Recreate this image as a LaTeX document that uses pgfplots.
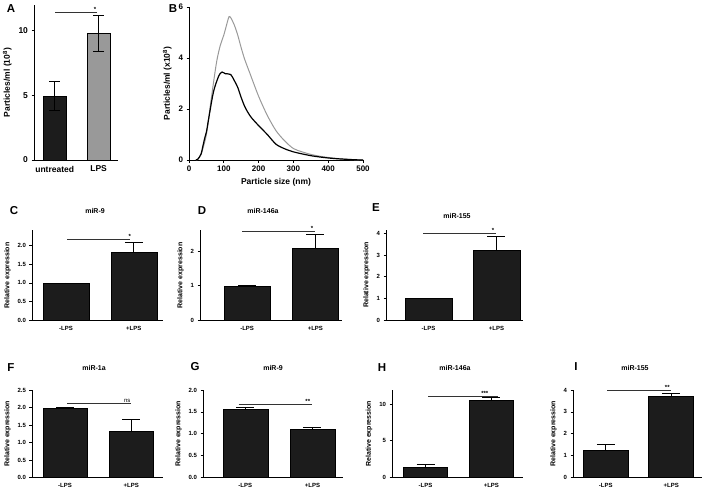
\documentclass[border=0pt]{standalone}
\usepackage{pgfplots}
\pgfplotsset{compat=1.18}
\usepackage{fontspec}
\setmainfont{Liberation Sans}
\definecolor{barblack}{HTML}{1C1C1C}
\definecolor{bargray}{HTML}{999999}
\definecolor{sigline}{HTML}{333333}
\tikzset{
  sig/.style={draw=sigline, line width=0.8pt},
  star/.style={font=\bfseries\fontsize{6}{6}\selectfont, anchor=south, inner sep=0.6pt},
}
\pgfplotsset{
  gp/.style={scale only axis, anchor=south west, axis x line*=bottom, axis y line*=left,
    axis line style={-, line width=0.8pt}, tick align=outside, major tick length=2.5pt,
    tick style={line width=0.8pt,black}, ymin=0, clip=false,
    /pgf/number format/assume math mode=true,
    ticklabel style={font=\bfseries\fontsize{6}{7}\selectfont},
    ylabel style={font=\bfseries\fontsize{7}{8}\selectfont}},
  bp/.style={gp, ybar, xtick={0,1}, xticklabels={-LPS,+LPS}, xtick style={draw=none},
    ylabel={Relative expression}},
  onebar/.style={fill=barblack, draw=black, line width=0.6pt, bar shift=0pt, bar width=#1,
    error bars/y dir=plus, error bars/y explicit,
    error bars/error bar style={line width=0.8pt, black},
    error bars/error mark options={rotate=90, mark size=9pt, line width=0.8pt, black}},
}
\begin{document}
\begin{tikzpicture}
\useasboundingbox (0pt,0pt) rectangle (708pt,-491pt);
% ---------------- A ----------------
\begin{axis}[gp, at={(34pt,-160pt)}, width=84pt, height=155pt, ybar,
  xmin=-0.47, xmax=1.44, ymax=12, ytick={0,5,10},
  xtick={0,1}, xticklabels={untreated,LPS}, xtick style={draw=none},
  ticklabel style={font=\bfseries\fontsize{8.5}{9}\selectfont},
  ylabel style={font=\bfseries\fontsize{8.5}{9}\selectfont},
  ylabel={Particles/ml (10\textsuperscript{8})}]
\addplot[onebar=23pt, error bars/y dir=both, error bars/error mark options={rotate=90, mark size=5.5pt, line width=0.8pt, black}]
  coordinates {(0,4.95) +- (0,1.1)};
\addplot[onebar=23pt, fill=bargray, error bars/y dir=both, error bars/error mark options={rotate=90, mark size=5.5pt, line width=0.8pt, black}]
  coordinates {(1,9.8) +- (0,1.4)};
\draw[sig] (axis cs:0.01,11.4) -- (axis cs:0.97,11.4);
\node[star] at (axis cs:0.92,11.4) {*};
\end{axis}
% ---------------- B ----------------
\begin{axis}[gp, at={(189pt,-160pt)}, width=174pt, height=153pt,
  xmin=0, xmax=500, ymax=6, xtick={0,100,...,500}, ytick={0,2,4,6},
  ticklabel style={font=\bfseries\fontsize{8}{9}\selectfont},
  ylabel style={font=\bfseries\fontsize{8.5}{9}\selectfont},
  xlabel style={font=\bfseries\fontsize{8.5}{9}\selectfont},
  xlabel={Particle size (nm)}, ylabel={Particles/ml (x10\textsuperscript{8})}]
\addplot[bargray, line width=1pt, smooth] coordinates {
 (20,0) (25,0.02) (30,0.1) (35,0.22) (40,0.45) (45,0.7) (50,1.0) (55,1.45) (60,2.0) (65,2.5) (70,3.0)
 (80,3.9) (90,4.5) (100,4.9) (110,5.4) (115,5.62) (120,5.58) (130,5.3) (140,4.9) (150,4.4)
 (160,3.95) (175,3.4) (200,2.5) (225,1.75) (250,1.15) (275,0.75) (300,0.45) (325,0.32)
 (350,0.22) (375,0.15) (400,0.1) (425,0.06) (450,0.03) (475,0.01) (500,0)};
\addplot[black, line width=1.2pt, smooth] coordinates {
 (20,0) (25,0.03) (30,0.12) (35,0.25) (40,0.55) (45,0.85) (50,1.1) (55,1.5) (60,1.9) (65,2.3) (70,2.65)
 (75,2.9) (80,3.1) (85,3.28) (90,3.4) (95,3.45) (100,3.42) (105,3.38) (110,3.38) (115,3.37) (120,3.35)
 (125,3.25) (130,3.12) (140,2.85) (150,2.45) (160,2.1) (170,1.85) (180,1.65) (200,1.35)
 (225,1.0) (250,0.62) (275,0.44) (300,0.32) (325,0.24) (350,0.17) (375,0.12) (400,0.08)
 (425,0.05) (450,0.03) (475,0.01) (500,0)};
\end{axis}
% ---------------- C ----------------
\begin{axis}[bp, at={(32pt,-320.7pt)}, width=131pt, height=90.7pt,
  xmin=-0.5, xmax=1.43, ymax=2.4, ytick={0,0.5,...,2.0},
  yticklabel style={/pgf/number format/.cd, fixed, fixed zerofill, precision=1}]
\addplot[onebar=46pt] coordinates {(0,1.0) +- (0,0)};
\addplot[onebar=46pt] coordinates {(1,1.82) +- (0,0.24)};
\draw[sig] (axis cs:0.02,2.16) -- (axis cs:0.94,2.16);
\node[star] at (axis cs:0.94,2.16) {*};
\end{axis}
% ---------------- D ----------------
\begin{axis}[bp, at={(200pt,-320.7pt)}, width=142pt, height=90.7pt,
  xmin=-0.69, xmax=1.39, ymax=2.6, ytick={0,1,2}]
\addplot[onebar=46pt] coordinates {(0,1.0) +- (0,0)};
\addplot[onebar=46pt] coordinates {(1,2.08) +- (0,0.39)};
\draw[sig] (axis cs:-0.07,2.56) -- (axis cs:0.99,2.56);
\node[star] at (axis cs:0.95,2.56) {*};
\end{axis}
% ---------------- E ----------------
\begin{axis}[bp, at={(386pt,-320pt)}, width=137pt, height=90pt,
  xmin=-0.625, xmax=1.39, ymax=4.17, ytick={0,1,2,3,4}]
\addplot[onebar=47pt] coordinates {(0,1.0) +- (0,0)};
\addplot[onebar=47pt] coordinates {(1,3.23) +- (0,0.65)};
\draw[sig] (axis cs:-0.08,4.01) -- (axis cs:1.0,4.01);
\node[star] at (axis cs:0.95,4.01) {*};
\end{axis}
% ---------------- F ----------------
\begin{axis}[bp, at={(32pt,-477.7pt)}, width=131pt, height=87.7pt,
  xmin=-0.5, xmax=1.48, ymax=2.5, ytick={0,0.5,...,2.5},
  yticklabel style={/pgf/number format/.cd, fixed, fixed zerofill, precision=1}]
\addplot[onebar=44pt] coordinates {(0,1.99) +- (0,0.01)};
\addplot[onebar=44pt] coordinates {(1,1.33) +- (0,0.32)};
\draw[sig] (axis cs:0.03,2.12) -- (axis cs:1.0,2.12);
\node[star, font=\fontsize{6}{6}\selectfont] at (axis cs:0.94,2.12) {ns};
\end{axis}
% ---------------- G ----------------
\begin{axis}[bp, at={(203pt,-477.7pt)}, width=140pt, height=87.7pt,
  xmin=-0.63, xmax=1.455, ymax=2.0, ytick={0,0.5,...,2.0},
  yticklabel style={/pgf/number format/.cd, fixed, fixed zerofill, precision=1}]
\addplot[onebar=45pt] coordinates {(0,1.57) +- (0,0.04)};
\addplot[onebar=45pt] coordinates {(1,1.10) +- (0,0.05)};
\draw[sig] (axis cs:-0.1,1.68) -- (axis cs:1.0,1.68);
\node[star] at (axis cs:0.93,1.68) {**};
\end{axis}
% ---------------- H ----------------
\begin{axis}[bp, at={(392pt,-477.7pt)}, width=131pt, height=87.7pt,
  xmin=-0.51, xmax=1.48, ymax=11.9, ytick={0,5,10}]
\addplot[onebar=44pt] coordinates {(0,1.40) +- (0,0.35)};
\addplot[onebar=44pt] coordinates {(1,10.5) +- (0,0.35)};
\draw[sig] (axis cs:0.04,11.1) -- (axis cs:1.1,11.1);
\node[star] at (axis cs:0.9,11.1) {***};
\end{axis}
% ---------------- I ----------------
\begin{axis}[bp, at={(573pt,-477.7pt)}, width=129pt, height=87.7pt,
  xmin=-0.5, xmax=1.47, ymax=4.0, ytick={0,1,2,3,4}]
\addplot[onebar=45pt] coordinates {(0,1.25) +- (0,0.25)};
\addplot[onebar=45pt] coordinates {(1,3.73) +- (0,0.10)};
\draw[sig] (axis cs:0.02,3.97) -- (axis cs:1.0,3.97);
\node[star] at (axis cs:0.94,3.97) {**};
\end{axis}
% ---------------- letters and titles ----------------
\begin{scope}[every node/.style={font=\bfseries\fontsize{11.5}{12}\selectfont}]
\node at (11pt,-9pt) {A};
\node at (173pt,-9pt) {B};
\node at (14pt,-211pt) {C};
\node at (202pt,-211pt) {D};
\node at (376pt,-208pt) {E};
\node at (11pt,-368pt) {F};
\node at (195pt,-367pt) {G};
\node at (382pt,-368pt) {H};
\node at (576pt,-367pt) {I};
\end{scope}
\begin{scope}[every node/.style={font=\bfseries\fontsize{7}{8}\selectfont}]
\node at (95pt,-211pt) {miR-9};
\node at (263pt,-211pt) {miR-146a};
\node at (457pt,-216pt) {miR-155};
\node at (94pt,-368pt) {miR-1a};
\node at (273pt,-368pt) {miR-9};
\node at (455pt,-368pt) {miR-146a};
\node at (635pt,-368pt) {miR-155};
\end{scope}
\end{tikzpicture}
\end{document}
